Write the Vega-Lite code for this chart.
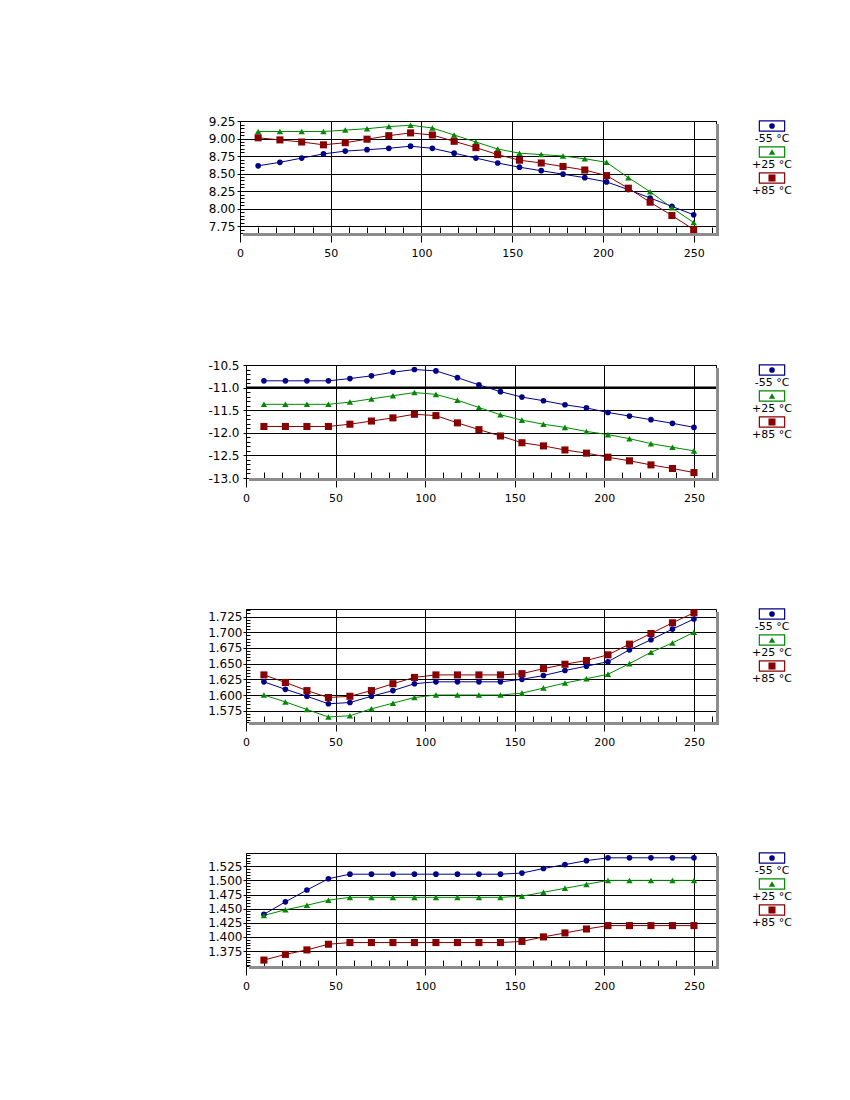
{
"$schema": "https://vega.github.io/schema/vega-lite/v6.json",
"background": "white",
"padding": {"left": 174, "top": 114, "right": 5, "bottom": 5},
"config": {
  "font": "DejaVu Sans",
  "view": {"stroke": null},
  "axis": {"tickColor": "black", "tickWidth": 1, "gridColor": "black", "gridOpacity": 1, "gridWidth": 1, "labelColor": "black", "labelFont": "DejaVu Sans", "labelFontSize": 12, "domain": false}
},
"datasets": {
  "leg": [{"s": "-55 °C"}, {"s": "+25 °C"}, {"s": "+85 °C"}],
  "p1": [
    {"x":10,"s":"-55 °C","y":8.61},{"x":22,"s":"-55 °C","y":8.66},{"x":34,"s":"-55 °C","y":8.72},{"x":46,"s":"-55 °C","y":8.78},{"x":58,"s":"-55 °C","y":8.82},{"x":70,"s":"-55 °C","y":8.84},{"x":82,"s":"-55 °C","y":8.86},{"x":94,"s":"-55 °C","y":8.89},{"x":106,"s":"-55 °C","y":8.86},{"x":118,"s":"-55 °C","y":8.79},{"x":130,"s":"-55 °C","y":8.72},{"x":142,"s":"-55 °C","y":8.65},{"x":154,"s":"-55 °C","y":8.59},{"x":166,"s":"-55 °C","y":8.54},{"x":178,"s":"-55 °C","y":8.49},{"x":190,"s":"-55 °C","y":8.44},{"x":202,"s":"-55 °C","y":8.38},{"x":214,"s":"-55 °C","y":8.27},{"x":226,"s":"-55 °C","y":8.15},{"x":238,"s":"-55 °C","y":8.03},{"x":250,"s":"-55 °C","y":7.91},
    {"x":10,"s":"+25 °C","y":9.10},{"x":22,"s":"+25 °C","y":9.10},{"x":34,"s":"+25 °C","y":9.10},{"x":46,"s":"+25 °C","y":9.10},{"x":58,"s":"+25 °C","y":9.12},{"x":70,"s":"+25 °C","y":9.14},{"x":82,"s":"+25 °C","y":9.17},{"x":94,"s":"+25 °C","y":9.19},{"x":106,"s":"+25 °C","y":9.15},{"x":118,"s":"+25 °C","y":9.05},{"x":130,"s":"+25 °C","y":8.95},{"x":142,"s":"+25 °C","y":8.85},{"x":154,"s":"+25 °C","y":8.79},{"x":166,"s":"+25 °C","y":8.77},{"x":178,"s":"+25 °C","y":8.75},{"x":190,"s":"+25 °C","y":8.71},{"x":202,"s":"+25 °C","y":8.66},{"x":214,"s":"+25 °C","y":8.44},{"x":226,"s":"+25 °C","y":8.24},{"x":238,"s":"+25 °C","y":8.01},{"x":250,"s":"+25 °C","y":7.80},
    {"x":10,"s":"+85 °C","y":9.01},{"x":22,"s":"+85 °C","y":8.98},{"x":34,"s":"+85 °C","y":8.95},{"x":46,"s":"+85 °C","y":8.91},{"x":58,"s":"+85 °C","y":8.94},{"x":70,"s":"+85 °C","y":8.99},{"x":82,"s":"+85 °C","y":9.04},{"x":94,"s":"+85 °C","y":9.08},{"x":106,"s":"+85 °C","y":9.05},{"x":118,"s":"+85 °C","y":8.96},{"x":130,"s":"+85 °C","y":8.87},{"x":142,"s":"+85 °C","y":8.77},{"x":154,"s":"+85 °C","y":8.69},{"x":166,"s":"+85 °C","y":8.65},{"x":178,"s":"+85 °C","y":8.60},{"x":190,"s":"+85 °C","y":8.55},{"x":202,"s":"+85 °C","y":8.47},{"x":214,"s":"+85 °C","y":8.29},{"x":226,"s":"+85 °C","y":8.09},{"x":238,"s":"+85 °C","y":7.90},{"x":250,"s":"+85 °C","y":7.70}
  ],
  "p2": [
    {"x":10,"s":"-55 °C","y":-10.85},{"x":22,"s":"-55 °C","y":-10.85},{"x":34,"s":"-55 °C","y":-10.85},{"x":46,"s":"-55 °C","y":-10.85},{"x":58,"s":"-55 °C","y":-10.80},{"x":70,"s":"-55 °C","y":-10.74},{"x":82,"s":"-55 °C","y":-10.66},{"x":94,"s":"-55 °C","y":-10.60},{"x":106,"s":"-55 °C","y":-10.63},{"x":118,"s":"-55 °C","y":-10.78},{"x":130,"s":"-55 °C","y":-10.94},{"x":142,"s":"-55 °C","y":-11.09},{"x":154,"s":"-55 °C","y":-11.21},{"x":166,"s":"-55 °C","y":-11.29},{"x":178,"s":"-55 °C","y":-11.38},{"x":190,"s":"-55 °C","y":-11.45},{"x":202,"s":"-55 °C","y":-11.55},{"x":214,"s":"-55 °C","y":-11.63},{"x":226,"s":"-55 °C","y":-11.71},{"x":238,"s":"-55 °C","y":-11.79},{"x":250,"s":"-55 °C","y":-11.88},
    {"x":10,"s":"+25 °C","y":-11.37},{"x":22,"s":"+25 °C","y":-11.37},{"x":34,"s":"+25 °C","y":-11.37},{"x":46,"s":"+25 °C","y":-11.37},{"x":58,"s":"+25 °C","y":-11.32},{"x":70,"s":"+25 °C","y":-11.25},{"x":82,"s":"+25 °C","y":-11.18},{"x":94,"s":"+25 °C","y":-11.11},{"x":106,"s":"+25 °C","y":-11.15},{"x":118,"s":"+25 °C","y":-11.28},{"x":130,"s":"+25 °C","y":-11.44},{"x":142,"s":"+25 °C","y":-11.60},{"x":154,"s":"+25 °C","y":-11.72},{"x":166,"s":"+25 °C","y":-11.81},{"x":178,"s":"+25 °C","y":-11.88},{"x":190,"s":"+25 °C","y":-11.97},{"x":202,"s":"+25 °C","y":-12.04},{"x":214,"s":"+25 °C","y":-12.13},{"x":226,"s":"+25 °C","y":-12.24},{"x":238,"s":"+25 °C","y":-12.32},{"x":250,"s":"+25 °C","y":-12.40},
    {"x":10,"s":"+85 °C","y":-11.86},{"x":22,"s":"+85 °C","y":-11.86},{"x":34,"s":"+85 °C","y":-11.86},{"x":46,"s":"+85 °C","y":-11.86},{"x":58,"s":"+85 °C","y":-11.81},{"x":70,"s":"+85 °C","y":-11.74},{"x":82,"s":"+85 °C","y":-11.67},{"x":94,"s":"+85 °C","y":-11.59},{"x":106,"s":"+85 °C","y":-11.62},{"x":118,"s":"+85 °C","y":-11.78},{"x":130,"s":"+85 °C","y":-11.93},{"x":142,"s":"+85 °C","y":-12.07},{"x":154,"s":"+85 °C","y":-12.22},{"x":166,"s":"+85 °C","y":-12.29},{"x":178,"s":"+85 °C","y":-12.38},{"x":190,"s":"+85 °C","y":-12.45},{"x":202,"s":"+85 °C","y":-12.54},{"x":214,"s":"+85 °C","y":-12.62},{"x":226,"s":"+85 °C","y":-12.71},{"x":238,"s":"+85 °C","y":-12.79},{"x":250,"s":"+85 °C","y":-12.88}
  ],
  "p3": [
    {"x":10,"s":"-55 °C","y":1.621},{"x":22,"s":"-55 °C","y":1.609},{"x":34,"s":"-55 °C","y":1.598},{"x":46,"s":"-55 °C","y":1.586},{"x":58,"s":"-55 °C","y":1.588},{"x":70,"s":"-55 °C","y":1.598},{"x":82,"s":"-55 °C","y":1.607},{"x":94,"s":"-55 °C","y":1.618},{"x":106,"s":"-55 °C","y":1.621},{"x":118,"s":"-55 °C","y":1.621},{"x":130,"s":"-55 °C","y":1.621},{"x":142,"s":"-55 °C","y":1.621},{"x":154,"s":"-55 °C","y":1.625},{"x":166,"s":"-55 °C","y":1.631},{"x":178,"s":"-55 °C","y":1.639},{"x":190,"s":"-55 °C","y":1.646},{"x":202,"s":"-55 °C","y":1.653},{"x":214,"s":"-55 °C","y":1.672},{"x":226,"s":"-55 °C","y":1.688},{"x":238,"s":"-55 °C","y":1.705},{"x":250,"s":"-55 °C","y":1.721},
    {"x":10,"s":"+25 °C","y":1.600},{"x":22,"s":"+25 °C","y":1.589},{"x":34,"s":"+25 °C","y":1.577},{"x":46,"s":"+25 °C","y":1.565},{"x":58,"s":"+25 °C","y":1.567},{"x":70,"s":"+25 °C","y":1.578},{"x":82,"s":"+25 °C","y":1.587},{"x":94,"s":"+25 °C","y":1.596},{"x":106,"s":"+25 °C","y":1.600},{"x":118,"s":"+25 °C","y":1.600},{"x":130,"s":"+25 °C","y":1.600},{"x":142,"s":"+25 °C","y":1.600},{"x":154,"s":"+25 °C","y":1.603},{"x":166,"s":"+25 °C","y":1.611},{"x":178,"s":"+25 °C","y":1.619},{"x":190,"s":"+25 °C","y":1.626},{"x":202,"s":"+25 °C","y":1.633},{"x":214,"s":"+25 °C","y":1.650},{"x":226,"s":"+25 °C","y":1.668},{"x":238,"s":"+25 °C","y":1.683},{"x":250,"s":"+25 °C","y":1.700},
    {"x":10,"s":"+85 °C","y":1.632},{"x":22,"s":"+85 °C","y":1.620},{"x":34,"s":"+85 °C","y":1.607},{"x":46,"s":"+85 °C","y":1.596},{"x":58,"s":"+85 °C","y":1.598},{"x":70,"s":"+85 °C","y":1.607},{"x":82,"s":"+85 °C","y":1.618},{"x":94,"s":"+85 °C","y":1.628},{"x":106,"s":"+85 °C","y":1.632},{"x":118,"s":"+85 °C","y":1.632},{"x":130,"s":"+85 °C","y":1.632},{"x":142,"s":"+85 °C","y":1.632},{"x":154,"s":"+85 °C","y":1.634},{"x":166,"s":"+85 °C","y":1.642},{"x":178,"s":"+85 °C","y":1.649},{"x":190,"s":"+85 °C","y":1.655},{"x":202,"s":"+85 °C","y":1.664},{"x":214,"s":"+85 °C","y":1.681},{"x":226,"s":"+85 °C","y":1.698},{"x":238,"s":"+85 °C","y":1.715},{"x":250,"s":"+85 °C","y":1.731}
  ],
  "p4": [
    {"x":10,"s":"-55 °C","y":1.440},{"x":22,"s":"-55 °C","y":1.462},{"x":34,"s":"-55 °C","y":1.483},{"x":46,"s":"-55 °C","y":1.503},{"x":58,"s":"-55 °C","y":1.511},{"x":70,"s":"-55 °C","y":1.511},{"x":82,"s":"-55 °C","y":1.511},{"x":94,"s":"-55 °C","y":1.511},{"x":106,"s":"-55 °C","y":1.511},{"x":118,"s":"-55 °C","y":1.511},{"x":130,"s":"-55 °C","y":1.511},{"x":142,"s":"-55 °C","y":1.511},{"x":154,"s":"-55 °C","y":1.513},{"x":166,"s":"-55 °C","y":1.521},{"x":178,"s":"-55 °C","y":1.528},{"x":190,"s":"-55 °C","y":1.535},{"x":202,"s":"-55 °C","y":1.540},{"x":214,"s":"-55 °C","y":1.540},{"x":226,"s":"-55 °C","y":1.540},{"x":238,"s":"-55 °C","y":1.540},{"x":250,"s":"-55 °C","y":1.540},
    {"x":10,"s":"+25 °C","y":1.438},{"x":22,"s":"+25 °C","y":1.448},{"x":34,"s":"+25 °C","y":1.456},{"x":46,"s":"+25 °C","y":1.465},{"x":58,"s":"+25 °C","y":1.470},{"x":70,"s":"+25 °C","y":1.470},{"x":82,"s":"+25 °C","y":1.470},{"x":94,"s":"+25 °C","y":1.470},{"x":106,"s":"+25 °C","y":1.470},{"x":118,"s":"+25 °C","y":1.470},{"x":130,"s":"+25 °C","y":1.470},{"x":142,"s":"+25 °C","y":1.470},{"x":154,"s":"+25 °C","y":1.472},{"x":166,"s":"+25 °C","y":1.479},{"x":178,"s":"+25 °C","y":1.486},{"x":190,"s":"+25 °C","y":1.493},{"x":202,"s":"+25 °C","y":1.500},{"x":214,"s":"+25 °C","y":1.500},{"x":226,"s":"+25 °C","y":1.500},{"x":238,"s":"+25 °C","y":1.500},{"x":250,"s":"+25 °C","y":1.500},
    {"x":10,"s":"+85 °C","y":1.359},{"x":22,"s":"+85 °C","y":1.369},{"x":34,"s":"+85 °C","y":1.377},{"x":46,"s":"+85 °C","y":1.387},{"x":58,"s":"+85 °C","y":1.390},{"x":70,"s":"+85 °C","y":1.390},{"x":82,"s":"+85 °C","y":1.390},{"x":94,"s":"+85 °C","y":1.390},{"x":106,"s":"+85 °C","y":1.390},{"x":118,"s":"+85 °C","y":1.390},{"x":130,"s":"+85 °C","y":1.390},{"x":142,"s":"+85 °C","y":1.390},{"x":154,"s":"+85 °C","y":1.392},{"x":166,"s":"+85 °C","y":1.400},{"x":178,"s":"+85 °C","y":1.407},{"x":190,"s":"+85 °C","y":1.414},{"x":202,"s":"+85 °C","y":1.420},{"x":214,"s":"+85 °C","y":1.420},{"x":226,"s":"+85 °C","y":1.420},{"x":238,"s":"+85 °C","y":1.420},{"x":250,"s":"+85 °C","y":1.420}
  ]
},
"columns": 1,
"align": "none",
"spacing": 102,
"concat": [
 {"columns": 1, "align": "none", "spacing": 99, "concat": [
  {"spacing": 32, "hconcat": [
   {"width": 1, "height": 1, "data": {"values": []}, "mark": "point"},
   {"width": 476, "height": 112, "view": {"stroke": "black"}, "data": {"name": "p1"},
    "resolve": {"axis": {"x": "independent", "y": "independent"}},
    "layer": [
     {"data": {"values": [{"k": 1}]}, "mark": {"type": "rect", "color": "#8c8c8c", "x2Offset": 3, "yOffset": 3, "y2Offset": 3},
      "encoding": {"x": {"datum": 262.3, "type": "quantitative", "scale": {"domain": [0, 262.3], "nice": false, "zero": false}, "axis": null}, "x2": {"datum": 262.3},
                   "y": {"datum": 9.25, "type": "quantitative", "scale": {"domain": [7.65, 9.25], "nice": false, "zero": false}, "axis": null}, "y2": {"datum": 7.65}}},
     {"data": {"values": [{"k": 1}]}, "mark": {"type": "rect", "color": "#8c8c8c", "xOffset": 3, "x2Offset": 3, "y2Offset": 3},
      "encoding": {"x": {"datum": 0, "type": "quantitative", "scale": {"domain": [0, 262.3], "nice": false, "zero": false}, "axis": null}, "x2": {"datum": 262.3},
                   "y": {"datum": 7.65, "type": "quantitative", "scale": {"domain": [7.65, 9.25], "nice": false, "zero": false}, "axis": null}, "y2": {"datum": 7.65}}},
     {"mark": {"type": "line", "strokeWidth": 1},
      "encoding": {
       "x": {"field": "x", "type": "quantitative", "scale": {"domain": [0, 262.3], "nice": false, "zero": false}, "axis": {"orient": "bottom", "title": null, "values": [0, 50, 100, 150, 200, 250], "grid": true, "tickSize": 9, "labelPadding": 5, "labelFontSize": 11, "labelFlush": false, "labelOverlap": false}},
       "y": {"field": "y", "type": "quantitative", "scale": {"domain": [7.65, 9.25], "nice": false, "zero": false}, "axis": {"orient": "left", "title": null, "values": [7.75, 8, 8.25, 8.5, 8.75, 9, 9.25], "format": ".2f", "grid": true, "tickSize": 3, "labelPadding": 2, "labelOverlap": false}},
       "color": {"field": "s", "type": "nominal", "scale": {"domain": ["-55 °C", "+25 °C", "+85 °C"], "range": ["#000088", "#008800", "#880000"]}, "legend": null}}},
     {"mark": {"type": "point", "filled": true, "opacity": 1},
      "encoding": {
       "x": {"field": "x", "type": "quantitative", "scale": {"domain": [0, 262.3], "nice": false, "zero": false}, "axis": {"orient": "bottom", "title": null, "values": [10,20,30,40,50,60,70,80,90,100,110,120,130,140,150,160,170,180,190,200,210,220,230,240,250,260], "labels": false, "grid": false, "domain": false, "tickSize": -6}},
       "y": {"field": "y", "type": "quantitative", "scale": {"domain": [7.65, 9.25], "nice": false, "zero": false}, "axis": {"orient": "left", "title": null, "values": [7.65,7.7,7.75,7.8,7.85,7.9,7.95,8,8.05,8.1,8.15,8.2,8.25,8.3,8.35,8.4,8.45,8.5,8.55,8.6,8.65,8.7,8.75,8.8,8.85,8.9,8.95,9,9.05,9.1,9.15,9.2,9.25], "labels": false, "grid": false, "domain": false, "tickSize": -4}},
       "color": {"field": "s", "type": "nominal", "scale": {"domain": ["-55 °C", "+25 °C", "+85 °C"], "range": ["#000088", "#008800", "#880000"]}, "legend": null},
       "shape": {"field": "s", "type": "nominal", "scale": {"domain": ["-55 °C", "+25 °C", "+85 °C"], "range": ["circle", "triangle-up", "square"]}, "legend": null},
       "size": {"field": "s", "type": "nominal", "scale": {"domain": ["-55 °C", "+25 °C", "+85 °C"], "range": [32, 50, 36]}, "legend": null}}}
    ]},
   {"width": 40, "height": 62, "data": {"name": "leg"},
    "encoding": {"y": {"field": "s", "type": "nominal", "scale": {"type": "point", "domain": ["-55 °C", "+25 °C", "+85 °C"], "padding": 0.1923}, "axis": null}},
    "layer": [
     {"mark": {"type": "point", "shape": "M-1,-0.4H1V0.4H-1Z", "size": 640, "fill": "white", "filled": false, "strokeWidth": 1.2, "opacity": 1},
      "encoding": {"stroke": {"field": "s", "type": "nominal", "scale": {"domain": ["-55 °C", "+25 °C", "+85 °C"], "range": ["#000088", "#008800", "#880000"]}, "legend": null}}},
     {"mark": {"type": "point", "filled": true, "opacity": 1},
      "encoding": {"color": {"field": "s", "type": "nominal", "legend": null}, "shape": {"field": "s", "type": "nominal", "legend": null}, "size": {"field": "s", "type": "nominal", "legend": null}}},
     {"mark": {"type": "text", "dy": 13, "fontSize": 11, "color": "black"}, "encoding": {"text": {"field": "s"}}}
    ]}
  ]},
  {"spacing": 32, "hconcat": [
   {"width": 1, "height": 1, "data": {"values": []}, "mark": "point"},
   {"width": 470, "height": 113, "view": {"stroke": "black"}, "data": {"name": "p2"},
    "resolve": {"axis": {"x": "independent", "y": "independent"}},
    "layer": [
     {"data": {"values": [{"k": 1}]}, "mark": {"type": "rect", "color": "#8c8c8c", "x2Offset": 3, "yOffset": 3, "y2Offset": 3},
      "encoding": {"x": {"datum": 262.3, "type": "quantitative", "scale": {"domain": [0, 262.3], "nice": false, "zero": false}, "axis": null}, "x2": {"datum": 262.3},
                   "y": {"datum": -10.5, "type": "quantitative", "scale": {"domain": [-13, -10.5], "nice": false, "zero": false}, "axis": null}, "y2": {"datum": -13}}},
     {"data": {"values": [{"k": 1}]}, "mark": {"type": "rect", "color": "#8c8c8c", "xOffset": 3, "x2Offset": 3, "y2Offset": 3},
      "encoding": {"x": {"datum": 0, "type": "quantitative", "scale": {"domain": [0, 262.3], "nice": false, "zero": false}, "axis": null}, "x2": {"datum": 262.3},
                   "y": {"datum": -13, "type": "quantitative", "scale": {"domain": [-13, -10.5], "nice": false, "zero": false}, "axis": null}, "y2": {"datum": -13}}},
     {"data": {"values": [{"k": 1}]}, "mark": {"type": "rule", "strokeWidth": 2, "color": "black"},
      "encoding": {"y": {"datum": -11, "type": "quantitative", "scale": {"domain": [-13, -10.5], "nice": false, "zero": false}, "axis": null}}},
     {"mark": {"type": "line", "strokeWidth": 1},
      "encoding": {
       "x": {"field": "x", "type": "quantitative", "scale": {"domain": [0, 262.3], "nice": false, "zero": false}, "axis": {"orient": "bottom", "title": null, "values": [0, 50, 100, 150, 200, 250], "grid": true, "tickSize": 9, "labelPadding": 5, "labelFontSize": 11, "labelFlush": false, "labelOverlap": false}},
       "y": {"field": "y", "type": "quantitative", "scale": {"domain": [-13, -10.5], "nice": false, "zero": false}, "axis": {"orient": "left", "title": null, "values": [-13, -12.5, -12, -11.5, -11, -10.5], "format": ".1f", "labelExpr": "replace(datum.label, '\u2212', '-')", "grid": true, "tickSize": 3, "labelPadding": 4, "labelOverlap": false}},
       "color": {"field": "s", "type": "nominal", "scale": {"domain": ["-55 °C", "+25 °C", "+85 °C"], "range": ["#000088", "#008800", "#880000"]}, "legend": null}}},
     {"mark": {"type": "point", "filled": true, "opacity": 1},
      "encoding": {
       "x": {"field": "x", "type": "quantitative", "scale": {"domain": [0, 262.3], "nice": false, "zero": false}, "axis": {"orient": "bottom", "title": null, "values": [10,20,30,40,50,60,70,80,90,100,110,120,130,140,150,160,170,180,190,200,210,220,230,240,250,260], "labels": false, "grid": false, "domain": false, "tickSize": -6}},
       "y": {"field": "y", "type": "quantitative", "scale": {"domain": [-13, -10.5], "nice": false, "zero": false}, "axis": {"orient": "left", "title": null, "values": [-13,-12.9,-12.8,-12.7,-12.6,-12.5,-12.4,-12.3,-12.2,-12.1,-12,-11.9,-11.8,-11.7,-11.6,-11.5,-11.4,-11.3,-11.2,-11.1,-11,-10.9,-10.8,-10.7,-10.6,-10.5], "labels": false, "grid": false, "domain": false, "tickSize": -4}},
       "color": {"field": "s", "type": "nominal", "scale": {"domain": ["-55 °C", "+25 °C", "+85 °C"], "range": ["#000088", "#008800", "#880000"]}, "legend": null},
       "shape": {"field": "s", "type": "nominal", "scale": {"domain": ["-55 °C", "+25 °C", "+85 °C"], "range": ["circle", "triangle-up", "square"]}, "legend": null},
       "size": {"field": "s", "type": "nominal", "scale": {"domain": ["-55 °C", "+25 °C", "+85 °C"], "range": [32, 50, 36]}, "legend": null}}}
    ]},
   {"width": 40, "height": 62, "data": {"name": "leg"},
    "encoding": {"y": {"field": "s", "type": "nominal", "scale": {"type": "point", "domain": ["-55 °C", "+25 °C", "+85 °C"], "padding": 0.1923}, "axis": null}},
    "layer": [
     {"mark": {"type": "point", "shape": "M-1,-0.4H1V0.4H-1Z", "size": 640, "fill": "white", "filled": false, "strokeWidth": 1.2, "opacity": 1},
      "encoding": {"stroke": {"field": "s", "type": "nominal", "scale": {"domain": ["-55 °C", "+25 °C", "+85 °C"], "range": ["#000088", "#008800", "#880000"]}, "legend": null}}},
     {"mark": {"type": "point", "filled": true, "opacity": 1},
      "encoding": {"color": {"field": "s", "type": "nominal", "legend": null}, "shape": {"field": "s", "type": "nominal", "legend": null}, "size": {"field": "s", "type": "nominal", "legend": null}}},
     {"mark": {"type": "text", "dy": 13, "fontSize": 11, "color": "black"}, "encoding": {"text": {"field": "s"}}}
    ]}
  ]}
 ]},
 {"spacing": 32, "hconcat": [
   {"width": 1, "height": 1, "data": {"values": []}, "mark": "point"},
   {"width": 470, "height": 113, "view": {"stroke": "black"}, "data": {"name": "p3"},
    "resolve": {"axis": {"x": "independent", "y": "independent"}},
    "layer": [
     {"data": {"values": [{"k": 1}]}, "mark": {"type": "rect", "color": "#8c8c8c", "x2Offset": 3, "yOffset": 3, "y2Offset": 3},
      "encoding": {"x": {"datum": 262.3, "type": "quantitative", "scale": {"domain": [0, 262.3], "nice": false, "zero": false}, "axis": null}, "x2": {"datum": 262.3},
                   "y": {"datum": 1.737, "type": "quantitative", "scale": {"domain": [1.557, 1.737], "nice": false, "zero": false}, "axis": null}, "y2": {"datum": 1.557}}},
     {"data": {"values": [{"k": 1}]}, "mark": {"type": "rect", "color": "#8c8c8c", "xOffset": 3, "x2Offset": 3, "y2Offset": 3},
      "encoding": {"x": {"datum": 0, "type": "quantitative", "scale": {"domain": [0, 262.3], "nice": false, "zero": false}, "axis": null}, "x2": {"datum": 262.3},
                   "y": {"datum": 1.557, "type": "quantitative", "scale": {"domain": [1.557, 1.737], "nice": false, "zero": false}, "axis": null}, "y2": {"datum": 1.557}}},
     {"mark": {"type": "line", "strokeWidth": 1},
      "encoding": {
       "x": {"field": "x", "type": "quantitative", "scale": {"domain": [0, 262.3], "nice": false, "zero": false}, "axis": {"orient": "bottom", "title": null, "values": [0, 50, 100, 150, 200, 250], "grid": true, "tickSize": 9, "labelPadding": 5, "labelFontSize": 11, "labelFlush": false, "labelOverlap": false}},
       "y": {"field": "y", "type": "quantitative", "scale": {"domain": [1.557, 1.737], "nice": false, "zero": false}, "axis": {"orient": "left", "title": null, "values": [1.575, 1.6, 1.625, 1.65, 1.675, 1.7, 1.725], "format": ".3f", "grid": true, "tickSize": 3, "labelPadding": 1, "labelOverlap": false}},
       "color": {"field": "s", "type": "nominal", "scale": {"domain": ["-55 °C", "+25 °C", "+85 °C"], "range": ["#000088", "#008800", "#880000"]}, "legend": null}}},
     {"mark": {"type": "point", "filled": true, "opacity": 1},
      "encoding": {
       "x": {"field": "x", "type": "quantitative", "scale": {"domain": [0, 262.3], "nice": false, "zero": false}, "axis": {"orient": "bottom", "title": null, "values": [10,20,30,40,50,60,70,80,90,100,110,120,130,140,150,160,170,180,190,200,210,220,230,240,250,260], "labels": false, "grid": false, "domain": false, "tickSize": -6}},
       "y": {"field": "y", "type": "quantitative", "scale": {"domain": [1.557, 1.737], "nice": false, "zero": false}, "axis": {"orient": "left", "title": null, "values": [1.56,1.565,1.57,1.575,1.58,1.585,1.59,1.595,1.6,1.605,1.61,1.615,1.62,1.625,1.63,1.635,1.64,1.645,1.65,1.655,1.66,1.665,1.67,1.675,1.68,1.685,1.69,1.695,1.7,1.705,1.71,1.715,1.72,1.725,1.73,1.735], "labels": false, "grid": false, "domain": false, "tickSize": -4}},
       "color": {"field": "s", "type": "nominal", "scale": {"domain": ["-55 °C", "+25 °C", "+85 °C"], "range": ["#000088", "#008800", "#880000"]}, "legend": null},
       "shape": {"field": "s", "type": "nominal", "scale": {"domain": ["-55 °C", "+25 °C", "+85 °C"], "range": ["circle", "triangle-up", "square"]}, "legend": null},
       "size": {"field": "s", "type": "nominal", "scale": {"domain": ["-55 °C", "+25 °C", "+85 °C"], "range": [32, 50, 36]}, "legend": null}}}
    ]},
   {"width": 40, "height": 62, "data": {"name": "leg"},
    "encoding": {"y": {"field": "s", "type": "nominal", "scale": {"type": "point", "domain": ["-55 °C", "+25 °C", "+85 °C"], "padding": 0.1923}, "axis": null}},
    "layer": [
     {"mark": {"type": "point", "shape": "M-1,-0.4H1V0.4H-1Z", "size": 640, "fill": "white", "filled": false, "strokeWidth": 1.2, "opacity": 1},
      "encoding": {"stroke": {"field": "s", "type": "nominal", "scale": {"domain": ["-55 °C", "+25 °C", "+85 °C"], "range": ["#000088", "#008800", "#880000"]}, "legend": null}}},
     {"mark": {"type": "point", "filled": true, "opacity": 1},
      "encoding": {"color": {"field": "s", "type": "nominal", "legend": null}, "shape": {"field": "s", "type": "nominal", "legend": null}, "size": {"field": "s", "type": "nominal", "legend": null}}},
     {"mark": {"type": "text", "dy": 13, "fontSize": 11, "color": "black"}, "encoding": {"text": {"field": "s"}}}
    ]}
 ]},
 {"spacing": 32, "hconcat": [
   {"width": 1, "height": 1, "data": {"values": []}, "mark": "point"},
   {"width": 470, "height": 113, "view": {"stroke": "black"}, "data": {"name": "p4"},
    "resolve": {"axis": {"x": "independent", "y": "independent"}},
    "layer": [
     {"data": {"values": [{"k": 1}]}, "mark": {"type": "rect", "color": "#8c8c8c", "x2Offset": 3, "yOffset": 3, "y2Offset": 3},
      "encoding": {"x": {"datum": 262.3, "type": "quantitative", "scale": {"domain": [0, 262.3], "nice": false, "zero": false}, "axis": null}, "x2": {"datum": 262.3},
                   "y": {"datum": 1.5485, "type": "quantitative", "scale": {"domain": [1.3485, 1.5485], "nice": false, "zero": false}, "axis": null}, "y2": {"datum": 1.3485}}},
     {"data": {"values": [{"k": 1}]}, "mark": {"type": "rect", "color": "#8c8c8c", "xOffset": 3, "x2Offset": 3, "y2Offset": 3},
      "encoding": {"x": {"datum": 0, "type": "quantitative", "scale": {"domain": [0, 262.3], "nice": false, "zero": false}, "axis": null}, "x2": {"datum": 262.3},
                   "y": {"datum": 1.3485, "type": "quantitative", "scale": {"domain": [1.3485, 1.5485], "nice": false, "zero": false}, "axis": null}, "y2": {"datum": 1.3485}}},
     {"mark": {"type": "line", "strokeWidth": 1},
      "encoding": {
       "x": {"field": "x", "type": "quantitative", "scale": {"domain": [0, 262.3], "nice": false, "zero": false}, "axis": {"orient": "bottom", "title": null, "values": [0, 50, 100, 150, 200, 250], "grid": true, "tickSize": 9, "labelPadding": 5, "labelFontSize": 11, "labelFlush": false, "labelOverlap": false}},
       "y": {"field": "y", "type": "quantitative", "scale": {"domain": [1.3485, 1.5485], "nice": false, "zero": false}, "axis": {"orient": "left", "title": null, "values": [1.375, 1.4, 1.425, 1.45, 1.475, 1.5, 1.525], "format": ".3f", "grid": true, "tickSize": 3, "labelPadding": 1, "labelOverlap": false}},
       "color": {"field": "s", "type": "nominal", "scale": {"domain": ["-55 °C", "+25 °C", "+85 °C"], "range": ["#000088", "#008800", "#880000"]}, "legend": null}}},
     {"mark": {"type": "point", "filled": true, "opacity": 1},
      "encoding": {
       "x": {"field": "x", "type": "quantitative", "scale": {"domain": [0, 262.3], "nice": false, "zero": false}, "axis": {"orient": "bottom", "title": null, "values": [10,20,30,40,50,60,70,80,90,100,110,120,130,140,150,160,170,180,190,200,210,220,230,240,250,260], "labels": false, "grid": false, "domain": false, "tickSize": -6}},
       "y": {"field": "y", "type": "quantitative", "scale": {"domain": [1.3485, 1.5485], "nice": false, "zero": false}, "axis": {"orient": "left", "title": null, "values": [1.35,1.355,1.36,1.365,1.37,1.375,1.38,1.385,1.39,1.395,1.4,1.405,1.41,1.415,1.42,1.425,1.43,1.435,1.44,1.445,1.45,1.455,1.46,1.465,1.47,1.475,1.48,1.485,1.49,1.495,1.5,1.505,1.51,1.515,1.52,1.525,1.53,1.535,1.54,1.545], "labels": false, "grid": false, "domain": false, "tickSize": -4}},
       "color": {"field": "s", "type": "nominal", "scale": {"domain": ["-55 °C", "+25 °C", "+85 °C"], "range": ["#000088", "#008800", "#880000"]}, "legend": null},
       "shape": {"field": "s", "type": "nominal", "scale": {"domain": ["-55 °C", "+25 °C", "+85 °C"], "range": ["circle", "triangle-up", "square"]}, "legend": null},
       "size": {"field": "s", "type": "nominal", "scale": {"domain": ["-55 °C", "+25 °C", "+85 °C"], "range": [32, 50, 36]}, "legend": null}}}
    ]},
   {"width": 40, "height": 62, "data": {"name": "leg"},
    "encoding": {"y": {"field": "s", "type": "nominal", "scale": {"type": "point", "domain": ["-55 °C", "+25 °C", "+85 °C"], "padding": 0.1923}, "axis": null}},
    "layer": [
     {"mark": {"type": "point", "shape": "M-1,-0.4H1V0.4H-1Z", "size": 640, "fill": "white", "filled": false, "strokeWidth": 1.2, "opacity": 1},
      "encoding": {"stroke": {"field": "s", "type": "nominal", "scale": {"domain": ["-55 °C", "+25 °C", "+85 °C"], "range": ["#000088", "#008800", "#880000"]}, "legend": null}}},
     {"mark": {"type": "point", "filled": true, "opacity": 1},
      "encoding": {"color": {"field": "s", "type": "nominal", "legend": null}, "shape": {"field": "s", "type": "nominal", "legend": null}, "size": {"field": "s", "type": "nominal", "legend": null}}},
     {"mark": {"type": "text", "dy": 13, "fontSize": 11, "color": "black"}, "encoding": {"text": {"field": "s"}}}
    ]}
 ]}
]
}
